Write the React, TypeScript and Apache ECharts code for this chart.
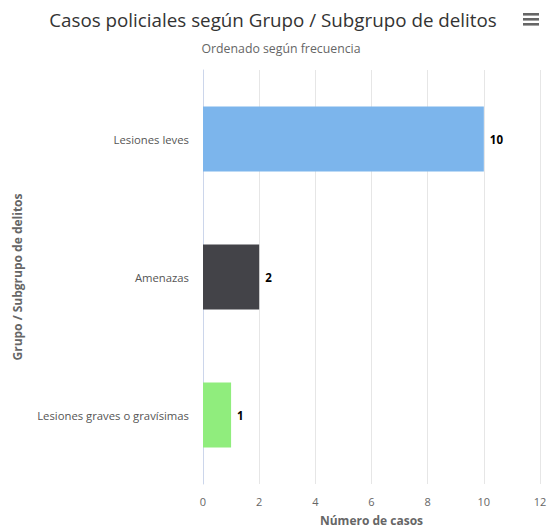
import React, { useEffect, useRef } from "react";
import * as echarts from "echarts";

const categories = ["Lesiones leves", "Amenazas", "Lesiones graves o gravísimas"];
const values = [10, 2, 1];
const colors = ["#7cb5ec", "#434348", "#90ed7d"];
const xTicks = { min: 0, max: 12, interval: 2 };

const FONT = "'Open Sans', 'Noto Sans', sans-serif";

export default function App() {
  const ref = useRef<HTMLDivElement>(null);
  useEffect(() => {
    document.body.style.margin = "0";
    if (!ref.current) return;
    const chart = echarts.init(ref.current, undefined, { renderer: "svg" });
    chart.setOption({
      animation: false,
      textStyle: { fontFamily: FONT },
      title: [
        {
          text: "Casos policiales según Grupo / Subgrupo de delitos",
          left: 268,
          textAlign: "center",
          top: 5,
          textStyle: { fontFamily: FONT, fontSize: 18.8, fontWeight: "normal", color: "#333333" },
        },
        {
          text: "Ordenado según frecuencia",
          left: 276,
          textAlign: "center",
          top: 37,
          textStyle: { fontFamily: FONT, fontSize: 12.3, fontWeight: "normal", color: "#666666" },
        },
      ],
      grid: { left: 203, right: 10, top: 70, bottom: 46, containLabel: false },
      xAxis: {
        type: "value",
        min: xTicks.min,
        max: xTicks.max,
        interval: xTicks.interval,
        name: "Número de casos",
        nameLocation: "middle",
        nameGap: 30,
        nameTextStyle: { fontFamily: FONT, fontSize: 12, fontWeight: "bold", color: "#666666" },
        axisLine: { show: false },
        axisTick: { show: false },
        axisLabel: { fontFamily: FONT, fontSize: 11, color: "#666666", margin: 12 },
        splitLine: { show: true, lineStyle: { color: "#e6e6e6", width: 1 } },
      },
      yAxis: {
        type: "category",
        data: categories,
        inverse: true,
        name: "Grupo / Subgrupo de delitos",
        nameLocation: "middle",
        nameRotate: 90,
        nameGap: 180,
        nameTextStyle: { fontFamily: FONT, fontSize: 12, fontWeight: "bold", color: "#666666" },
        axisLine: { show: true, lineStyle: { color: "#ccd6eb" } },
        axisTick: { show: false },
        axisLabel: { fontFamily: FONT, fontSize: 11.3, color: "#555555", margin: 14 },
        splitLine: { show: false },
      },
      series: [
        {
          type: "bar",
          data: values.map((v, i) => ({ value: v, itemStyle: { color: colors[i] } })),
          barWidth: 65,
          label: {
            show: true,
            position: "right",
            distance: 6,
            fontFamily: FONT,
            fontSize: 11.5,
            fontWeight: "bold",
            color: "#000000",
          },
        },
      ],
      graphic: [
        { type: "rect", shape: { x: 523, y: 13, width: 16, height: 2.6 }, style: { fill: "#666666" } },
        { type: "rect", shape: { x: 523, y: 18, width: 16, height: 2.6 }, style: { fill: "#666666" } },
        { type: "rect", shape: { x: 523, y: 23, width: 16, height: 2.6 }, style: { fill: "#666666" } },
      ],
    });
    return () => chart.dispose();
  }, []);
  return <div ref={ref} style={{ width: 550, height: 531 }} />;
}
